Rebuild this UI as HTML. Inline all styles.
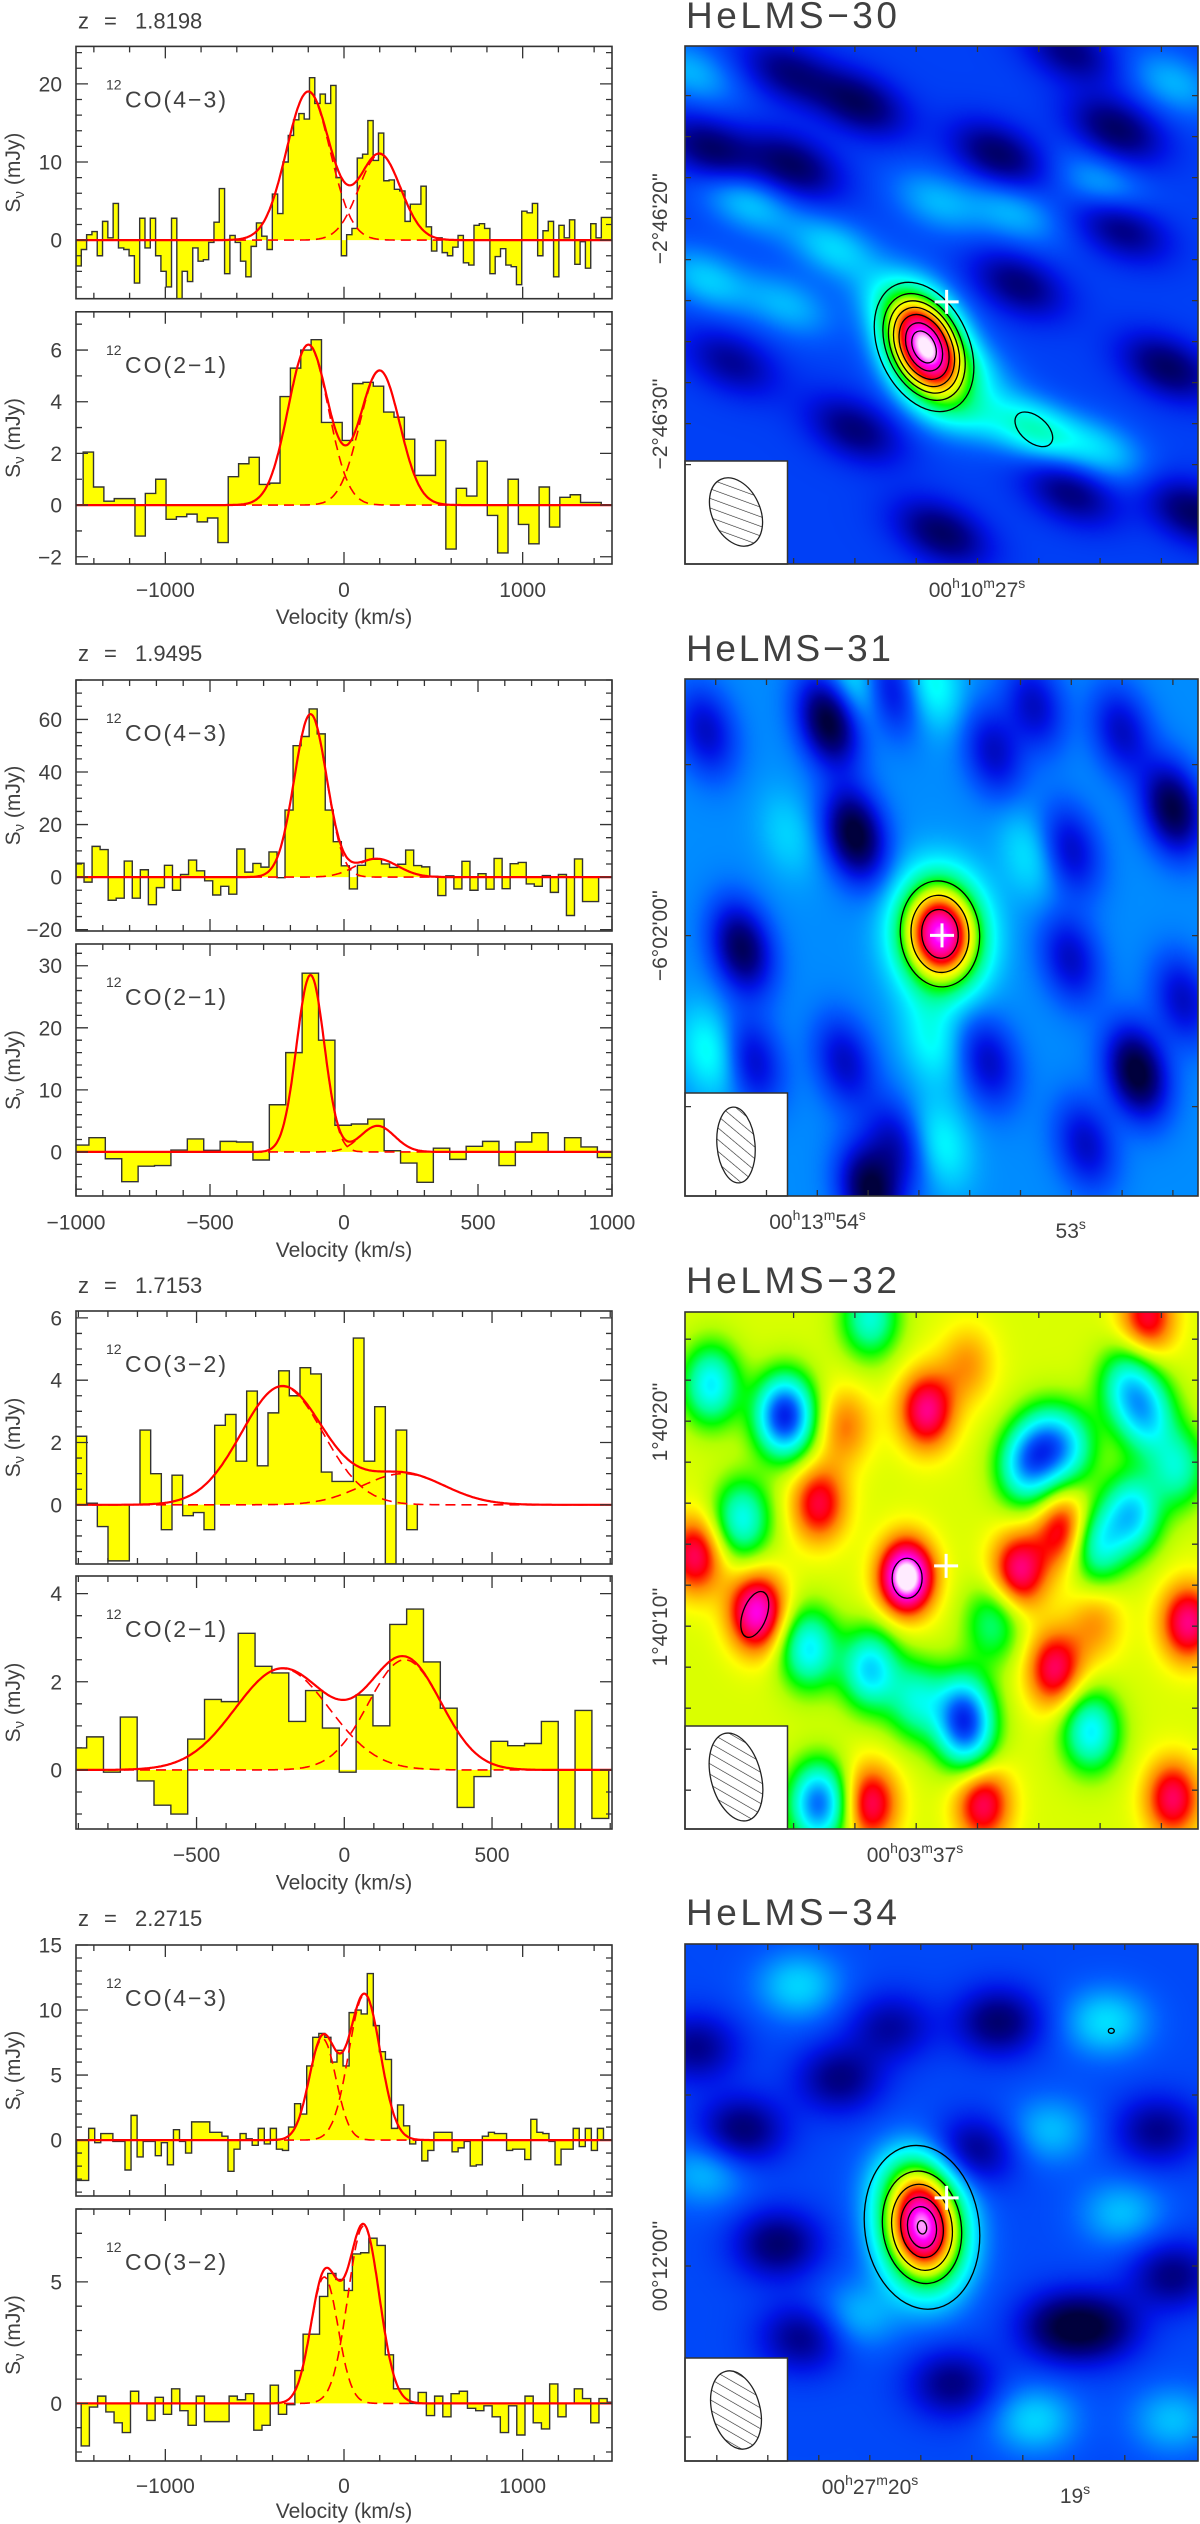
<!DOCTYPE html>
<html><head><meta charset="utf-8"><title>HeLMS CO spectra and maps</title>
<style>
html,body{margin:0;padding:0;background:#fff;}
#wrap{position:relative;width:1200px;height:2524px;overflow:hidden;background:#fff;font-family:"Liberation Sans",sans-serif;}
canvas{position:absolute;}
#main{position:absolute;left:0;top:0;}
text{font-family:"Liberation Sans",sans-serif;fill:#404040;}
</style></head>
<body>
<div id="wrap">
<canvas id="map1" width="513" height="518" style="left:685px;top:46px"></canvas>
<canvas id="map2" width="513" height="517" style="left:685px;top:679px"></canvas>
<canvas id="map3" width="513" height="517" style="left:685px;top:1312px"></canvas>
<canvas id="map4" width="513" height="517" style="left:685px;top:1944px"></canvas>
<svg id="main" width="1200" height="2524" xmlns="http://www.w3.org/2000/svg">
<defs>
<pattern id="hatch" width="9" height="9" patternUnits="userSpaceOnUse" patternTransform="rotate(-45)">
<line x1="0" y1="0" x2="0" y2="9" stroke="#222" stroke-width="1.2"/>
</pattern>
</defs>
<g id="static" font-size="22">
<text x="78" y="28.5"><tspan x="78">z</tspan><tspan x="104">=</tspan><tspan x="135">1.8198</tspan></text>
<text x="78" y="661"><tspan x="78">z</tspan><tspan x="104">=</tspan><tspan x="135">1.9495</tspan></text>
<text x="78" y="1293"><tspan x="78">z</tspan><tspan x="104">=</tspan><tspan x="135">1.7153</tspan></text>
<text x="78" y="1926"><tspan x="78">z</tspan><tspan x="104">=</tspan><tspan x="135">2.2715</tspan></text>
<text x="686" y="28" font-size="37" textLength="211" fill="#555">HeLMS−30</text>
<text x="686" y="661" font-size="37" textLength="205" fill="#555">HeLMS−31</text>
<text x="686" y="1293" font-size="37" textLength="211" fill="#555">HeLMS−32</text>
<text x="686" y="1925" font-size="37" textLength="211" fill="#555">HeLMS−34</text>
</g>
<g id="dyn"></g>
</svg>
</div>
<script>
// ---------------- spectra data ----------------
const sp1aValues=[-3.3,-1.2,0.7,1.1,-2,2.4,0.3,4.7,-1,-1.2,-2,-5.5,2.8,-1,2.8,-2,-4,-6,2.8,-7.5,-4,-5.3,-1,-2.7,-2.5,-0.3,2.3,6.6,-4.3,0.6,-0.3,-2.7,-4.7,-0.8,2.2,0.5,-1.2,5.9,3.4,10,13.4,15.4,16.2,15.5,20.8,17.5,18.7,17.5,19.8,8,-2,0.7,1.5,10.5,11,15.3,10.2,13.7,7.6,7.7,6.5,6.3,2.4,4.6,4.6,6.9,1.7,-1.4,0.3,-1.6,-2,-0.9,0.6,-2.9,-3.2,1.9,2.1,1.5,-4.3,-2.1,-1.1,-3.2,-3.4,-5.7,3.7,3.5,4.7,-2,1.2,2.4,-4.7,1.9,0.3,2.6,-3.1,-0.2,-3.6,2.1,0.3,2.9,2.9];
const sp1aStart=-1500, sp1aWidth=29.7;
const sp1aAmp=[19,11], sp1aCen=[-200,200], sp1aFwhm=[287,275];
const sp1bValues=[2.05,0.7,0.15,0.25,0.25,-1.2,0.45,1.0,-0.55,-0.45,-0.35,-0.65,-0.5,-1.45,1.1,1.6,1.85,0.8,0.85,4.2,5.3,6.0,6.4,3.2,3.2,2.5,4.7,4.75,4.6,3.6,3.4,2.55,1.15,1.15,2.5,-1.7,0.65,0.35,1.7,-0.4,-1.85,1.0,-0.75,-1.5,0.7,-0.85,0.3,0.4,0.1,0.1];
const sp1bStart=-1460, sp1bWidth=58;
const sp1bAmp=[6.2,5.2], sp1bCen=[-200,200], sp1bFwhm=[264,264];
const sp2aValues=[5.3,-1.9,11.7,10.5,-8.8,-8.0,6.1,-8,2.8,-10.5,-4,4.5,-5,1,6.5,2.4,-1.4,-6.8,-3.5,-6.5,10.7,1.9,5.2,3.8,9.6,-0.2,25.5,50,53.5,64,54.5,25.5,13.5,4.3,-4.5,4.5,10.9,6.8,5,3.7,4.9,10.3,4.4,3.9,0.3,-7,0.5,-4.5,6,-5,1.3,-4.6,7.1,-4.4,5.1,5.6,-2.6,-3.5,0.6,-5.8,1,-14.6,6.9,-9.3,-9.3];
const sp2aStart=-1000, sp2aWidth=30;
const sp2aAmp=[62,7], sp2aCen=[-125,122], sp2aFwhm=[142,184];
const sp2bValues=[1.1,2.3,-1.1,-4.8,-2.3,-2.2,0.3,2.1,0.25,1.7,1.6,-1.3,7.6,16,28.8,18,4.3,4.5,5.3,0.2,-1.8,-4.9,0.6,-1.2,0.9,1.7,-2.2,1.6,3.1,0,2.3,0.8,-0.9];
const sp2bStart=-1013, sp2bWidth=61.2;
const sp2bAmp=[28.5,4.2], sp2bCen=[-125,125], sp2bFwhm=[122,150];
const sp3aValues=[2.2,0.05,-0.7,-1.8,-1.8,0.0,2.4,1.0,-0.8,0.95,-0.35,-0.25,-0.8,2.55,2.9,1.4,3.65,1.25,2.95,4.3,3.5,4.4,4.2,1.05,0.75,0.75,5.35,1.4,3.15,-1.9,2.4,-0.8];
const sp3aStart=-908, sp3aWidth=36.1;
const sp3aAmp=[3.8,1.0], sp3aCen=[-210,200], sp3aFwhm=[326,330];
const sp3bValues=[0.5,0.75,-0.05,1.2,-0.25,-0.8,-1.0,0.7,1.6,1.55,3.1,2.35,2.2,1.1,1.8,0.95,-0.05,1.7,1.0,3.3,3.65,2.45,1.4,-0.85,-0.15,0.65,0.55,0.6,1.1,-1.5,1.35,-1.1];
const sp3bStart=-929, sp3bWidth=57;
const sp3bAmp=[2.3,2.5], sp3bCen=[-210,205], sp3bFwhm=[375,290];
const sp4aValues=[-3.1,-3.1,0.9,-0.2,0.5,0.5,-0.1,-0.1,-2.3,1.9,-1.3,-0.1,-0.1,-1.2,-0.2,-1.9,0.8,-0.1,-1.0,1.4,1.4,1.4,0.6,0.6,0.3,-2.4,-0.7,0.5,0.1,-0.4,0.9,-0.3,0.9,-0.7,-0.8,1.0,2.8,2.0,5.7,7.9,8.2,7.9,6.0,6.9,5.7,9.8,10.0,9.7,12.8,8.8,6.8,6.2,0.9,2.7,1.1,-0.3,0,-1.6,-0.8,0.6,0.6,0.6,-0.9,-0.6,-0.1,-2.0,-1.9,0.3,0.6,0.5,0.5,-0.8,-0.7,-0.7,-1.5,1.6,0.6,0.5,-0.1,-1.9,-0.7,-0.7,0.9,-0.5,0.9,-0.8,0.9];
const sp4aStart=-1497, sp4aWidth=33.9;
const sp4aAmp=[7.8,11.2], sp4aCen=[-120,115], sp4aFwhm=[177,207];
const sp4bValues=[-1.75,-0.15,0.3,-0.35,-0.8,-1.2,0.5,0,-0.7,0.25,-0.45,0.6,-0.3,-0.9,0.3,-0.75,-0.75,-0.75,0.3,0.15,0.4,-1.1,-0.9,0.75,-0.45,-0.05,1.35,2.85,2.85,4.4,5.35,5.1,4.65,6.15,6.2,6.8,6.5,2.0,0.6,0.6,0,0.45,-0.5,0.3,-0.55,0.4,0.5,-0.2,-0.3,-0.1,-0.55,-1.2,-0.1,-1.3,0.3,-0.8,-1.05,0.8,-0.55,0,0.6,0.2,-0.8,0.2,0.05];
const sp4bStart=-1471, sp4bWidth=46;
const sp4bAmp=[5.2,7.3], sp4bCen=[-110,110], sp4bFwhm=[180,207];
// tick labels
const xLabels1=[-1000,0,1000], xLabels2=[-1000,-500,0,500,1000], xLabels3=[-500,0,500], xLabels4=[-1000,0,1000];
const yLabels1a=[0,10,20], yLabels1b=[-2,0,2,4,6], yLabels2a=[-20,0,20,40,60], yLabels2b=[0,10,20,30];
const yLabels3a=[0,2,4,6], yLabels3b=[0,2,4], yLabels4a=[0,5,10,15], yLabels4b=[0,5];
const lineNames=['CO(4−3)','CO(2−1)','CO(4−3)','CO(2−1)','CO(3−2)','CO(2−1)','CO(4−3)','CO(3−2)'];

const panels=[
 {id:'1a',x0:76,x1:612,y0:46.4,y1:298.7,vmin:-1500,vmax:1500,smin:-7.5,smax:24.8,vals:sp1aValues,start:sp1aStart,w:sp1aWidth,amp:sp1aAmp,cen:sp1aCen,fw:sp1aFwhm,xmin:200,xmaj:1000,ymin:2,ymaj:10,yl:yLabels1a,xl:null},
 {id:'1b',x0:76,x1:612,y0:311.8,y1:564,vmin:-1500,vmax:1500,smin:-2.28,smax:7.48,vals:sp1bValues,start:sp1bStart,w:sp1bWidth,amp:sp1bAmp,cen:sp1bCen,fw:sp1bFwhm,xmin:200,xmaj:1000,ymin:1,ymaj:2,yl:yLabels1b,xl:xLabels1,xlY:597,velY:624},
 {id:'2a',x0:76,x1:612,y0:680,y1:931,vmin:-1000,vmax:1000,smin:-20.5,smax:75,vals:sp2aValues,start:sp2aStart,w:sp2aWidth,amp:sp2aAmp,cen:sp2aCen,fw:sp2aFwhm,xmin:100,xmaj:500,ymin:5,ymaj:20,yl:yLabels2a,xl:null},
 {id:'2b',x0:76,x1:612,y0:944,y1:1196,vmin:-1000,vmax:1000,smin:-7.1,smax:33.5,vals:sp2bValues,start:sp2bStart,w:sp2bWidth,amp:sp2bAmp,cen:sp2bCen,fw:sp2bFwhm,xmin:100,xmaj:500,ymin:2,ymaj:10,yl:yLabels2b,xl:xLabels2,xlY:1229.5,velY:1257},
 {id:'3a',x0:76,x1:612,y0:1311,y1:1564,vmin:-908,vmax:906,smin:-1.9,smax:6.22,vals:sp3aValues,start:sp3aStart,w:sp3aWidth,amp:sp3aAmp,cen:sp3aCen,fw:sp3aFwhm,xmin:100,xmaj:500,ymin:0.5,ymaj:2,yl:yLabels3a,xl:null},
 {id:'3b',x0:76,x1:612,y0:1576,y1:1829,vmin:-908,vmax:906,smin:-1.34,smax:4.4,vals:sp3bValues,start:sp3bStart,w:sp3bWidth,amp:sp3bAmp,cen:sp3bCen,fw:sp3bFwhm,xmin:100,xmaj:500,ymin:0.5,ymaj:2,yl:yLabels3b,xl:xLabels3,xlY:1862,velY:1889.5},
 {id:'4a',x0:76,x1:612,y0:1945,y1:2196,vmin:-1500,vmax:1500,smin:-4.3,smax:15,vals:sp4aValues,start:sp4aStart,w:sp4aWidth,amp:sp4aAmp,cen:sp4aCen,fw:sp4aFwhm,xmin:200,xmaj:1000,ymin:1,ymaj:5,yl:yLabels4a,xl:null},
 {id:'4b',x0:76,x1:612,y0:2209,y1:2461,vmin:-1500,vmax:1500,smin:-2.37,smax:8.0,vals:sp4bValues,start:sp4bStart,w:sp4bWidth,amp:sp4bAmp,cen:sp4bCen,fw:sp4bFwhm,xmin:200,xmaj:1000,ymin:1,ymaj:5,yl:yLabels4b,xl:xLabels4,xlY:2493,velY:2518}
];

// ---------------- map data ----------------
const map1U=[0.05,0.21,0.34,0.61,0.84,0.65,0.94,0.33,0.5,0.75,0.2,0.75,0.85,0.99,0.09, 0.12,0.29,0.04,0.49,0.81,0.64,0.68,0.54,0.81,0.95,0.2,0.01,0.42,0.55];
const map1V=[0.2,0.23,0.11,0.21,0.16,0.46,0.62,0.74,0.94,0.86,0.05,0.01,0.35,0.9,0.61, 0.3,0.39,0.45,0.3,0.27,0.32,0.74,0.7,0.78,0.07,0.5,0.05,0.5,0.62];
const map1A=[-0.17,-0.17,-0.17,-0.17,-0.17,-0.15,-0.17,-0.15,-0.17,-0.15,-0.14,-0.14,-0.15,-0.17,-0.12, 0.12,0.13,0.12,0.1,0.1,0.1,0.2,0.12,0.12,0.1,0.1,0.1,0.1,0.1];
const map2U=[0.28,0.33,0.11,0.95,0.88,0.36, 0.31,0.13,0.04,0.6,0.68,0.4,0.75,0.59,0.78,0.41,0.97,0.75,0.85, 0.33,0.48,0.05,0.48,0.5,0.67,0.2];
const map2V=[0.08,0.3,0.52,0.25,0.76,0.99, 0.74,0.74,0.1,0.14,0.05,0.02,0.54,0.74,0.9,0.9,0.62,0.33,0.1, 0.01,0.01,0.72,0.7,0.9,0.34,0.3];
const map2A=[-0.3,-0.3,-0.25,-0.27,-0.3,-0.28, -0.15,-0.15,-0.15,-0.15,-0.15,-0.15,-0.15,-0.15,-0.15,-0.15,-0.15,-0.15,-0.15, 0.12,0.12,0.12,0.1,0.1,0.08,0.06];
const map3U=[0.47,0.26,0.74,0.65,0.72,0.98,0.02,0.36,0.58,0.95,0.9,0.43,0.14, 0.31,0.55,0.8, 0.05,0.19,0.7,0.87,0.36,0.54,0.24,0.79,0.36,0.11,0.9,0.6,0.66,0.8,0.55,0.45,0.96, 0.86,0.75,0.26,0.2];
const map3V=[0.19,0.37,0.42,0.5,0.69,0.6,0.47,0.95,0.95,0.94,0.01,0.51,0.58, 0.22,0.1,0.6, 0.14,0.2,0.26,0.39,0.69,0.77,0.65,0.81,0.01,0.4,0.2,0.6,0.3,0.45,0.82,0.75,0.3, 0.14,0.26,0.95,0.2];
const map3A=[0.24,0.2,0.22,0.24,0.22,0.24,0.22,0.22,0.22,0.22,0.2,0.3,0.3, 0.12,0.1,0.1, -0.26,-0.28,-0.26,-0.28,-0.28,-0.28,-0.26,-0.26,-0.22,-0.24,-0.24,-0.16,-0.24,-0.24,-0.22,-0.2,-0.2, -0.22,-0.18,-0.38,-0.18];
const map4U=[0.11,0.18,0.3,0.61,0.56,0.73,0.95,0.81,0.52,0.23,0.92,0.02,0.4, 0.22,0.82,0.71,0.04,0.85,0.68,0.33,0.95,0.45];
const map4V=[0.36,0.58,0.26,0.15,0.4,0.74,0.64,0.74,0.85,0.76,0.36,0.2,0.16, 0.08,0.15,0.36,0.44,0.52,0.92,0.72,0.92,0.45];
const map4A=[-0.17,-0.17,-0.15,-0.17,-0.15,-0.17,-0.15,-0.15,-0.15,-0.15,-0.14,-0.14,-0.12, 0.12,0.13,0.1,0.1,0.1,0.12,0.1,0.1,0.1];
// sources (fractional position, amplitude, sigma px, angle)
const srcU=[0.466,0.497,0.433,0.462], srcV=[0.581,0.493,0.515,0.548];
const srcAmp=[0.75,0.68,0.12,0.75], srcSx=[25,28,16,28.5], srcSy=[38,37.5,20,41], srcAng=[-25,-5,0,-8];
const map1Levels=[0.15,0.25,0.33,0.41,0.5,0.6,0.68];
const map2Levels=[0.25,0.4,0.55];
const map4Levels=[0.1,0.29,0.43,0.57,0.66,0.74];

const maps=[
 {cv:'map1',left:685,top:46,w:513,h:518,base:0.21,U:map1U,V:map1V,A:map1A,bsx:34,bsy:20,bang:25,si:0,levels:map1Levels,
  extra:[[0.68,0.74,22,13,40]],beam:[51,466,24,36,-25],cross:[0.51,0.494],
  xt:[108.6,61.3,7],yt:[49.6,41,10],xlab:[[292,'00','h','10','m','27','s']],ylab:[[172.7,'−2°46\'20\'\''],[378,'−2°46\'30\'\'']]},
 {cv:'map2',left:685,top:679,w:513,h:517,base:0.28,U:map2U,V:map2V,A:map2A,bsx:20,bsy:32,bang:-15,si:1,levels:map2Levels,
  extra:[],beam:[51,466,19,38,-5],cross:[0.501,0.496],
  xt:[30.7,50.8,10],yt:[85.6,171,3],xlab:[[132.5,'00','h','13','m','54','s'],[385.7,'','','','','53','s']],ylab:[[256.6,'−6°02\'00\'\'']]},
 {cv:'map3',left:685,top:1312,w:513,h:517,base:0.63,U:map3U,V:map3V,A:map3A,bsx:20,bsy:28,bang:0,si:2,levels:[],
  extra:[[0.433,0.515,15,20,0],[0.136,0.585,12,24,20]],beam:[51,465,25,45,-15],cross:[0.509,0.491],
  xt:[108.6,61.3,7],yt:[27.2,41,12],xlab:[[230,'00','h','03','m','37','s']],ylab:[[110,'1°40\'20\'\''],[315,'1°40\'10\'\'']]},
 {cv:'map4',left:685,top:1944,w:513,h:517,base:0.22,U:map4U,V:map4V,A:map4A,bsx:30,bsy:24,bang:0,si:3,levels:map4Levels,
  extra:[[0.831,0.168,3,2.5,0]],beam:[51,466,24,40,-15],cross:[0.51,0.491],
  xt:[31.8,51,9],yt:[151,171,3],xlab:[[185,'00','h','27','m','20','s'],[390,'','','','','19','s']],ylab:[[322,'00°12\'00\'\'']]}
];

// ---------------- helpers ----------------
const NS='http://www.w3.org/2000/svg';
const dyn=document.getElementById('dyn');
function mk(tag,attrs,parent){const e=document.createElementNS(NS,tag);for(const k in attrs)e.setAttribute(k,attrs[k]);(parent||dyn).appendChild(e);return e;}
function fmt(n){return (n<0?'−':'')+Math.abs(n);}

// ---------------- spectra ----------------
panels.forEach(function(p,pi){
  const X=v=>p.x0+(v-p.vmin)/(p.vmax-p.vmin)*(p.x1-p.x0);
  const Y=s=>p.y1-(s-p.smin)/(p.smax-p.smin)*(p.y1-p.y0);
  const g=mk('g',{});
  
  
  const cp=mk('clipPath',{id:'clip'+p.id},g);
  mk('rect',{x:p.x0,y:p.y0,width:p.x1-p.x0,height:p.y1-p.y0},cp);
  const inner=mk('g',{'clip-path':'url(#clip'+p.id+')'},g);
  let d='M'+X(p.start)+','+Y(0);
  p.vals.forEach(function(v,i){const a=X(p.start+i*p.w),b=X(p.start+(i+1)*p.w),y=Y(v);d+=' L'+a+','+y+' L'+b+','+y;});
  d+=' L'+X(p.start+p.vals.length*p.w)+','+Y(0);
  const fill=mk('path',{d:d+' Z',fill:'#ffff00',stroke:'none'},inner);
  
  
  const out=mk('path',{d:d,fill:'none',stroke:'#333','stroke-width':1.4},inner);
  
  
  const gauss=(v,k)=>p.amp[k]*Math.exp(-4*Math.LN2*Math.pow((v-p.cen[k])/p.fw[k],2));
  for(let k=0;k<p.amp.length;k++){
    let dc='';
    for(let v=p.vmin;v<=p.vmax;v+=4){dc+=(dc?' L':'M')+X(v).toFixed(1)+','+Y(gauss(v,k)).toFixed(1);}
    const comp=mk('path',{d:dc,fill:'none',stroke:'#ff0000','stroke-width':1.6,'stroke-dasharray':'10,6'},inner);
    
    
  }
  let dt='';
  for(let v=p.vmin;v<=p.vmax;v+=4){let s=0;for(let k=0;k<p.amp.length;k++)s+=gauss(v,k);dt+=(dt?' L':'M')+X(v).toFixed(1)+','+Y(s).toFixed(1);}
  const tot=mk('path',{d:dt,fill:'none',stroke:'#ff0000','stroke-width':2.2},inner);
  
  
  const fr=mk('rect',{x:p.x0,y:p.y0,width:p.x1-p.x0,height:p.y1-p.y0,fill:'none',stroke:'#333','stroke-width':1.6},g);
  
  
  let td='';
  const vs=Math.ceil(p.vmin/p.xmin)*p.xmin;
  for(let v=vs;v<=p.vmax+0.001;v+=p.xmin){const x=X(v);const maj=Math.abs(Math.round(v/p.xmaj)*p.xmaj-v)<0.01;const L=maj?12:6;td+='M'+x+','+p.y1+' v'+(-L)+' M'+x+','+p.y0+' v'+L+' ';}
  const ss=Math.ceil(p.smin/p.ymin-1e-9)*p.ymin;
  for(let s=ss;s<=p.smax+1e-9;s+=p.ymin){const y=Y(s);const maj=Math.abs(Math.round(s/p.ymaj)*p.ymaj-s)<1e-6;const L=maj?12:6;td+='M'+p.x0+','+y+' h'+L+' M'+p.x1+','+y+' h'+(-L)+' ';}
  const tk=mk('path',{d:td,stroke:'#333','stroke-width':1.3,fill:'none'},g);
  
  
  p.yl.forEach(function(s){
    const t=mk('text',{x:62,y:Y(s)+7.5,'text-anchor':'end','font-size':21},g);
    t.textContent=fmt(s);
    
    
  });
  const ym=(p.y0+p.y1)/2;
  const yt=mk('text',{x:20,y:ym,'text-anchor':'middle','font-size':21,transform:'rotate(-90 20 '+ym+')'},g);
  
  
  const t1=mk('tspan',{},yt);t1.textContent='S';
  const t2=mk('tspan',{'font-size':15,dy:4},yt);t2.textContent='ν';
  const t3=mk('tspan',{dy:-4},yt);t3.textContent=' (mJy)';
  const ll=mk('text',{x:106,y:p.y0+43,'font-size':14},g);
  ll.textContent='12';
  
  
  const ln=mk('text',{x:125,y:p.y0+61,'font-size':23,textLength:101},g);
  ln.textContent=lineNames[pi];
  
  
  if(p.xl){
    p.xl.forEach(function(v){
      const t=mk('text',{x:X(v),y:p.xlY,'text-anchor':'middle','font-size':21},g);
      t.textContent=fmt(v);
      
      
    });
    const vt=mk('text',{x:344,y:p.velY,'text-anchor':'middle','font-size':21},g);
    vt.textContent='Velocity (km/s)';
    
    
  }
});

// ---------------- maps ----------------
const stops=[[0,0,0,60],[0.08,0,0,140],[0.16,0,20,230],[0.24,0,90,255],[0.32,0,190,255],[0.38,0,255,255],[0.46,0,255,150],[0.53,0,255,0],[0.6,180,255,0],[0.66,255,255,0],[0.74,255,140,0],[0.8,255,0,0],[0.88,255,0,150],[0.94,255,0,255],[1,255,235,255]];
function cmap(v){v=Math.max(0,Math.min(1,v));for(let i=1;i<stops.length;i++){if(v<=stops[i][0]){const a=stops[i-1],b=stops[i];const t=(v-a[0])/(b[0]-a[0]);return [a[1]+t*(b[1]-a[1]),a[2]+t*(b[2]-a[2]),a[3]+t*(b[3]-a[3])];}}return [255,235,255];}

maps.forEach(function(m,mi){
  const cv=document.getElementById(m.cv);const ctx=cv.getContext('2d');
  const img=ctx.createImageData(m.w,m.h);
  const ca=Math.cos(m.bang*Math.PI/180),sa=Math.sin(m.bang*Math.PI/180);
  const si=m.si;
  const sca=Math.cos(srcAng[si]*Math.PI/180),ssa=Math.sin(srcAng[si]*Math.PI/180);
  const sx0=srcU[si]*m.w,sy0=srcV[si]*m.h;
  const bx=m.U.map(u=>u*m.w),by=m.V.map(v=>v*m.h);
  for(let j=0;j<m.h;j++){for(let i=0;i<m.w;i++){
    let val=m.base;
    for(let k=0;k<bx.length;k++){const dx=i-bx[k],dy=j-by[k];if(dx*dx+dy*dy>14000)continue;const p=dx*ca+dy*sa,q=-dx*sa+dy*ca;val+=m.A[k]*Math.exp(-0.5*(p*p/(m.bsx*m.bsx)+q*q/(m.bsy*m.bsy)));}
    const dx=i-sx0,dy=j-sy0;const p=dx*sca+dy*ssa,q=-dx*ssa+dy*sca;
    val+=srcAmp[si]*Math.exp(-0.5*(p*p/(srcSx[si]*srcSx[si])+q*q/(srcSy[si]*srcSy[si])));
    const c=cmap(val);const o=(j*m.w+i)*4;img.data[o]=c[0];img.data[o+1]=c[1];img.data[o+2]=c[2];img.data[o+3]=255;
  }}
  ctx.putImageData(img,0,0);
  const g=mk('g',{});
  
  
  m.levels.forEach(function(l){
    const kk=Math.sqrt(2*Math.log(srcAmp[si]/l));
    const cx=m.left+sx0,cy=m.top+sy0;
    const e=mk('ellipse',{cx:cx,cy:cy,rx:kk*srcSx[si],ry:kk*srcSy[si],transform:'rotate('+srcAng[si]+' '+cx+' '+cy+')',fill:'none',stroke:'#000','stroke-width':1.3},g);
    
    
  });
  m.extra.forEach(function(c){
    const cx=m.left+c[0]*m.w,cy=m.top+c[1]*m.h;
    const e=mk('ellipse',{cx:cx,cy:cy,rx:c[2],ry:c[3],transform:'rotate('+c[4]+' '+cx+' '+cy+')',fill:'none',stroke:'#000','stroke-width':1.3},g);
    
    
  });
  const cx=m.left+m.cross[0]*m.w,cy=m.top+m.cross[1]*m.h;
  const cr=mk('path',{d:'M'+(cx-12)+','+cy+' h24 M'+cx+','+(cy-12)+' v24',stroke:'#fff','stroke-width':3},g);
  
  
  const bt=m.top+m.h-103;
  const box=mk('rect',{x:m.left,y:bt,width:102.5,height:103,fill:'#fff',stroke:'#333','stroke-width':1.5},g);
  
  
  const ex=m.left+m.beam[0],ey=m.top+m.beam[1];
  const be=mk('ellipse',{cx:ex,cy:ey,rx:m.beam[2],ry:m.beam[3],transform:'rotate('+m.beam[4]+' '+ex+' '+ey+')',fill:'url(#hatch)',stroke:'#222','stroke-width':1.3},g);
  
  
  const fr=mk('rect',{x:m.left,y:m.top,width:m.w,height:m.h,fill:'none',stroke:'#333','stroke-width':1.6},g);
  
  
  let td='';
  for(let k=0;k<m.xt[2];k++){const x=m.left+m.xt[0]+k*m.xt[1];td+='M'+x+','+m.top+' v6 M'+x+','+(m.top+m.h)+' v-6 ';}
  for(let k=0;k<m.yt[2];k++){const y=m.top+m.yt[0]+k*m.yt[1];if(y>m.top+m.h-1)continue;td+='M'+m.left+','+y+' h6 M'+(m.left+m.w)+','+y+' h-6 ';}
  const tk=mk('path',{d:td,stroke:'#333','stroke-width':1.3},g);
  
  
  const ly=m.top+m.h+33;
  m.xlab.forEach(function(L){
    const t=mk('text',{x:m.left+L[0],y:ly,'text-anchor':'middle','font-size':21},g);
    
    
    for(let q=1;q<7;q++){if(!L[q])continue;const sup=(q%2==0);const ts=mk('tspan',sup?{'font-size':14,dy:-9}:{'font-size':21,dy:(q>1?9:0)},t);ts.textContent=L[q];}
  });
  m.ylab.forEach(function(L){
    const y=m.top+L[0];
    const t=mk('text',{x:667,y:y,'text-anchor':'middle','font-size':21,transform:'rotate(-90 667 '+y+')'},g);
    t.textContent=L[1];
    
    
  });
});
</script>
</body></html>
